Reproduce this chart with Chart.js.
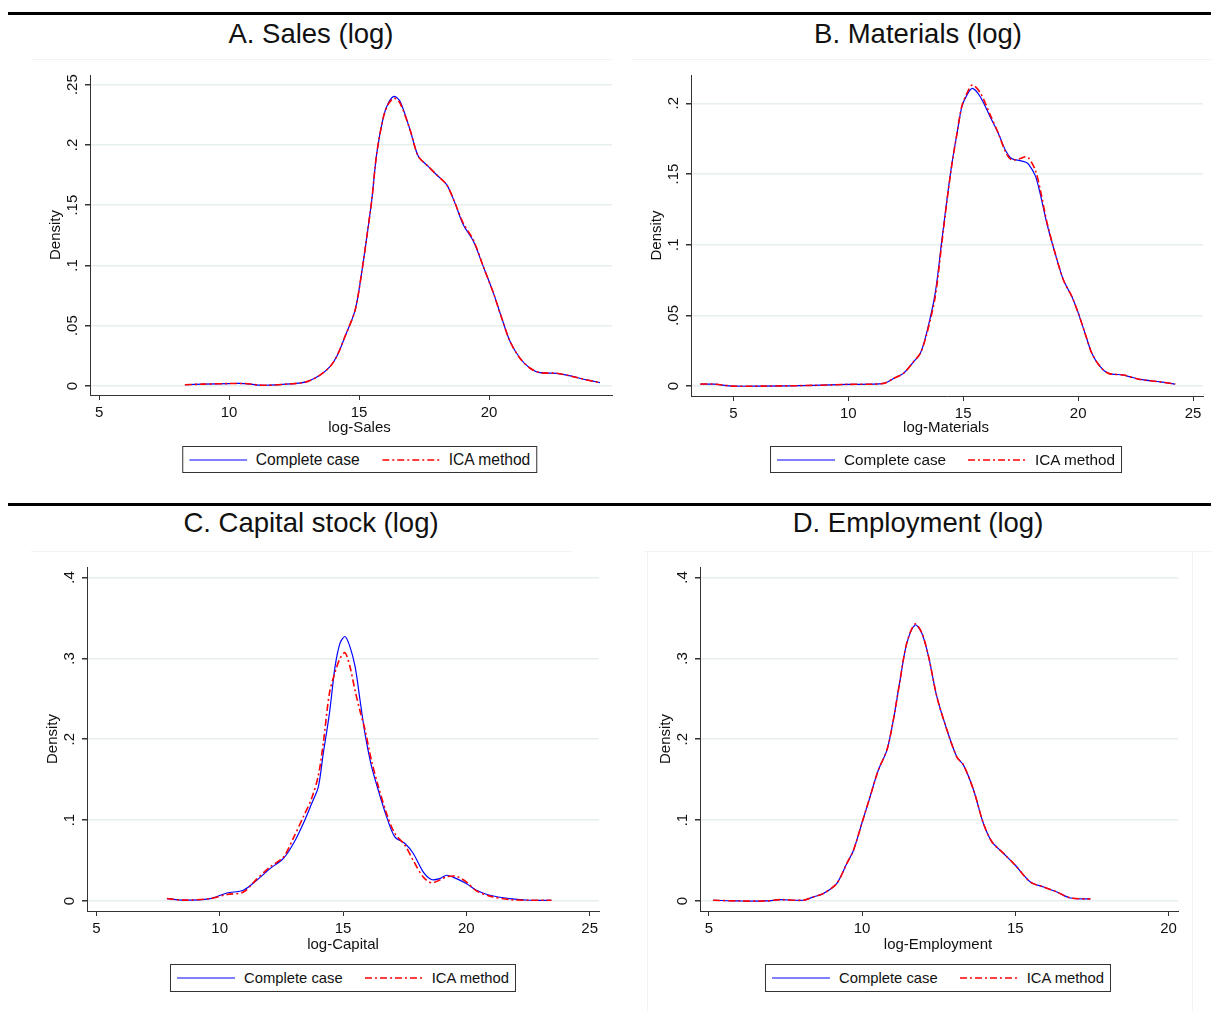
<!DOCTYPE html>
<html>
<head>
<meta charset="utf-8">
<script src="https://cdn.jsdelivr.net/npm/chart.js@4/dist/chart.umd.min.js"></script>
<style>
  html, body { margin: 0; padding: 0; background: #fff; }
  body { width: 1211px; height: 1018px; position: relative; overflow: hidden; font-family: "Liberation Sans", Arial, sans-serif; color: #111; }
  .sep { position: absolute; left: 8px; right: 0; height: 3px; background: #000; }
  .faint { position: absolute; background: #f2f2f2; }
  .ptitle { position: absolute; font-size: 27.5px; transform: translate(-50%, -50%); white-space: nowrap; color: #111; }
  canvas { position: absolute; }
  .legend { position: absolute; transform: translateX(-50%); border: 1px solid #333; display: flex; align-items: center; padding: 0 6px; box-sizing: border-box; white-space: nowrap; background: #fff; }
  .legend svg { display: block; margin-right: 9px; }
  .legend .item2 { margin-left: 22px; }
</style>
</head>
<body>
<div class="sep" style="top:12px"></div>
<div class="sep" style="top:503px"></div>
<div class="faint" style="left:31px; top:59px; width:580px; height:1px"></div>
<div class="faint" style="left:632px; top:59px; width:579px; height:1px"></div>
<div class="faint" style="left:31px; top:551px; width:540px; height:1px"></div>
<div class="faint" style="left:645px; top:551px; width:566px; height:1px"></div>
<div class="faint" style="left:647px; top:551px; width:1px; height:460px"></div>
<div class="faint" style="left:1192px; top:551px; width:1px; height:460px"></div>

<div class="ptitle" style="left:311px; top:34px">A. Sales (log)</div>
<div class="ptitle" style="left:918px; top:34px">B. Materials (log)</div>
<div class="ptitle" style="left:311px; top:523px">C. Capital stock (log)</div>
<div class="ptitle" style="left:918px; top:523px">D. Employment (log)</div>

<canvas id="cA" width="610" height="390" style="left:20px; top:60px"></canvas>
<canvas id="cB" width="581" height="390" style="left:630px; top:60px"></canvas>
<canvas id="cC" width="600" height="400" style="left:20px; top:552px"></canvas>
<canvas id="cD" width="581" height="400" style="left:630px; top:552px"></canvas>

<div class="legend" id="lA" style="left:359.5px; top:446px; height:27px; font-size:15.6px"></div>
<div class="legend" id="lB" style="left:946px; top:446px; height:27px; font-size:15.3px"></div>
<div class="legend" id="lC" style="left:343px; top:964px; height:28px; font-size:14.8px"></div>
<div class="legend" id="lD" style="left:938px; top:964px; height:28px; font-size:14.8px"></div>

<script>
// ---------------- DATA ----------------
const seriesNames = ['Complete case', 'ICA method'];

// A. Sales (log)
const salesX = [8.3, 9.0, 10.0, 10.6, 11.3, 12.35, 13.0, 13.5, 13.88, 14.14, 14.46, 14.85, 15.1, 15.3, 15.49, 15.68, 15.94, 16.13, 16.35, 16.58, 16.96, 17.28, 17.67, 17.99, 18.37, 18.69, 19.01, 19.4, 19.78, 20.17, 20.49, 20.81, 21.19, 21.58, 21.96, 22.6, 23.12, 23.76, 24.27];
const salesComplete = [0.001, 0.0015, 0.002, 0.002, 0.0006, 0.0017, 0.0036, 0.009, 0.016, 0.0244, 0.041, 0.063, 0.094, 0.124, 0.1545, 0.193, 0.2237, 0.235, 0.2403, 0.236, 0.2126, 0.1905, 0.182, 0.175, 0.167, 0.1517, 0.1337, 0.12, 0.099, 0.077, 0.0562, 0.0368, 0.023, 0.0147, 0.011, 0.0105, 0.0083, 0.005, 0.0028];
const salesICA = [0.001, 0.0015, 0.002, 0.002, 0.0006, 0.0017, 0.0036, 0.009, 0.016, 0.0244, 0.041, 0.063, 0.094, 0.124, 0.1545, 0.193, 0.2232, 0.234, 0.2388, 0.2345, 0.2126, 0.1905, 0.182, 0.175, 0.167, 0.1517, 0.135, 0.121, 0.099, 0.077, 0.0562, 0.0368, 0.023, 0.0147, 0.011, 0.0105, 0.0083, 0.005, 0.0028];
const salesXTicks = [5, 10, 15, 20];
const salesYTicks = [0, 0.05, 0.1, 0.15, 0.2, 0.25];
const salesYLabels = ['0', '.05', '.1', '.15', '.2', '.25'];

// B. Materials (log)
const materialsX = [3.57, 4.14, 5.0, 6.3, 8.49, 9.94, 11.54, 11.97, 12.4, 12.84, 13.13, 13.4, 13.78, 14.07, 14.29, 14.51, 14.73, 14.94, 15.16, 15.4, 15.74, 16.17, 16.53, 16.83, 17.1, 17.48, 17.7, 17.84, 18.13, 18.35, 18.64, 19.0, 19.36, 19.73, 20.01, 20.3, 20.6, 20.96, 21.32, 21.97, 22.7, 23.57, 24.22];
const materialsComplete = [0.0014, 0.0014, 0.0, 0.0, 0.0005, 0.0012, 0.0019, 0.0054, 0.009, 0.0172, 0.0231, 0.037, 0.0656, 0.103, 0.1315, 0.1575, 0.1787, 0.1975, 0.2058, 0.2105, 0.2046, 0.1905, 0.1787, 0.167, 0.161, 0.1594, 0.1585, 0.157, 0.149, 0.136, 0.115, 0.0938, 0.075, 0.0632, 0.0514, 0.0373, 0.023, 0.0137, 0.009, 0.0078, 0.0047, 0.003, 0.0014];
const materialsICA = [0.0014, 0.0014, 0.0, 0.0, 0.0005, 0.0012, 0.0019, 0.0054, 0.009, 0.0172, 0.0231, 0.036, 0.063, 0.101, 0.1305, 0.157, 0.1787, 0.198, 0.207, 0.2129, 0.2075, 0.192, 0.1787, 0.166, 0.160, 0.161, 0.1622, 0.1615, 0.153, 0.139, 0.116, 0.0938, 0.075, 0.0632, 0.0514, 0.0373, 0.023, 0.0137, 0.009, 0.0078, 0.0047, 0.003, 0.0014];
const materialsXTicks = [5, 10, 15, 20, 25];
const materialsYTicks = [0, 0.05, 0.1, 0.15, 0.2];
const materialsYLabels = ['0', '.05', '.1', '.15', '.2'];

// C. Capital stock (log)
const capitalX = [7.86, 8.53, 9.62, 10.29, 10.96, 11.5, 12.04, 12.58, 12.99, 13.39, 13.73, 14.0, 14.2, 14.45, 14.68, 14.88, 15.08, 15.28, 15.49, 15.69, 15.89, 16.16, 16.43, 16.77, 17.1, 17.51, 17.85, 18.25, 18.59, 18.93, 19.2, 19.6, 20.0, 20.41, 20.95, 21.76, 22.57, 23.45];
const capitalComplete = [0.003, 0.001, 0.003, 0.0099, 0.0133, 0.0256, 0.04, 0.0525, 0.071, 0.0958, 0.1206, 0.1412, 0.1825, 0.232, 0.29, 0.3188, 0.327, 0.3146, 0.29, 0.2485, 0.2073, 0.166, 0.137, 0.104, 0.0793, 0.071, 0.0587, 0.036, 0.0265, 0.0277, 0.0318, 0.0277, 0.0215, 0.0132, 0.0071, 0.003, 0.0009, 0.0009];
const capitalICA = [0.003, 0.001, 0.003, 0.008, 0.011, 0.027, 0.042, 0.054, 0.078, 0.104, 0.127, 0.155, 0.195, 0.257, 0.283, 0.300, 0.307, 0.29, 0.26, 0.235, 0.212, 0.173, 0.142, 0.108, 0.0835, 0.069, 0.05, 0.0297, 0.0225, 0.026, 0.030, 0.0305, 0.0235, 0.0125, 0.006, 0.0017, 0.0009, 0.0009];
const capitalXTicks = [5, 10, 15, 20, 25];
const capitalYTicks = [0, 0.1, 0.2, 0.3, 0.4];
const capitalYLabels = ['0', '.1', '.2', '.3', '.4'];

// D. Employment (log)
const employmentX = [5.14, 6.01, 6.89, 7.32, 8.08, 8.41, 8.73, 9.17, 9.5, 9.72, 9.99, 10.26, 10.53, 10.81, 11.02, 11.24, 11.46, 11.73, 11.95, 12.17, 12.44, 12.77, 13.09, 13.31, 13.64, 13.96, 14.24, 14.62, 15.0, 15.49, 15.92, 16.36, 16.8, 17.45];
const employmentComplete = [0.0009, 0, 0, 0.0017, 0.0009, 0.005, 0.0091, 0.0215, 0.0463, 0.0628, 0.0958, 0.1288, 0.1619, 0.1866, 0.2238, 0.2733, 0.3188, 0.3414, 0.3311, 0.3022, 0.2526, 0.2114, 0.1783, 0.168, 0.137, 0.0958, 0.073, 0.0587, 0.0442, 0.0235, 0.0173, 0.0111, 0.0037, 0.0025];
const employmentICA = [0.0009, 0, 0, 0.0017, 0.0009, 0.005, 0.0091, 0.0215, 0.0463, 0.0628, 0.0958, 0.1288, 0.1619, 0.1866, 0.2238, 0.2733, 0.3195, 0.3425, 0.3315, 0.3022, 0.2526, 0.2114, 0.1783, 0.168, 0.137, 0.0958, 0.073, 0.0587, 0.0442, 0.0235, 0.0173, 0.0111, 0.0037, 0.0025];
const employmentXTicks = [5, 10, 15, 20];
const employmentYTicks = [0, 0.1, 0.2, 0.3, 0.4];
const employmentYLabels = ['0', '.1', '.2', '.3', '.4'];

// ---------------- RENDERING ----------------
const FONT = '"Liberation Sans", Arial, sans-serif';
const BLUE = '#0000ff';
const RED = '#ff0000';
const DASH = [7, 3, 2, 3];

const stataText = {
  id: 'stataText',
  afterDraw(chart, args, opts) {
    const { ctx, chartArea } = chart;
    const ys = chart.scales.y;
    ctx.save();
    ctx.fillStyle = '#111';
    ctx.font = '15px ' + FONT;
    ctx.textAlign = 'center';
    ctx.textBaseline = 'middle';
    opts.yTicks.forEach((v, i) => {
      const py = ys.getPixelForValue(v);
      ctx.save();
      ctx.translate(chartArea.left - 17, py);
      ctx.rotate(-Math.PI / 2);
      ctx.fillText(opts.yLabels[i], 0, 0);
      ctx.restore();
    });
    ctx.save();
    ctx.translate(chartArea.left - 34, (chartArea.top + chartArea.bottom) / 2);
    ctx.rotate(-Math.PI / 2);
    ctx.fillText(opts.yTitle, 0, 0);
    ctx.restore();
    ctx.fillText(opts.xTitle, (chartArea.left + chartArea.right) / 2 + opts.xShift, chartArea.bottom + opts.xTitleDy);
    ctx.restore();
  }
};

function pts(xs, ys) { return xs.map((v, i) => ({ x: v, y: ys[i] })); }

function makeChart(id, p) {
  new Chart(document.getElementById(id), {
    type: 'line',
    data: {
      datasets: [
        { label: seriesNames[0], data: pts(p.x, p.cc), borderColor: BLUE, borderWidth: 1.2, pointRadius: 0, tension: 0.3, fill: false, order: 2 },
        { label: seriesNames[1], data: pts(p.x, p.ica), borderColor: RED, borderWidth: 1.6, borderDash: DASH, pointRadius: 0, tension: 0.3, fill: false, order: 1 }
      ]
    },
    options: {
      responsive: false,
      animation: false,
      events: [],
      layout: { padding: { top: p.padTop, right: p.padRight, left: 0, bottom: 0 } },
      plugins: {
        legend: { display: false },
        tooltip: { enabled: false },
        stataText: { yTicks: p.yTicks, yLabels: p.yLabels, yTitle: 'Density', xTitle: p.xTitle, xShift: p.xShift, xTitleDy: p.xTitleDy }
      },
      scales: {
        x: {
          type: 'linear', min: p.xMin, max: p.xMax,
          afterBuildTicks: (s) => { s.ticks = p.xTicks.map(v => ({ value: v })); },
          afterFit: (s) => { s.height = p.xH; s.paddingLeft = 0; s.paddingRight = 0; },
          ticks: { font: { family: FONT, size: 15 }, color: '#111', padding: 4, maxRotation: 0, minRotation: 0, autoSkip: false, callback: (v) => String(v) },
          grid: { drawOnChartArea: false, drawTicks: true, tickLength: 5, tickColor: '#333', color: '#333' },
          border: { display: true, color: '#333', width: 1 }
        },
        y: {
          type: 'linear', min: p.yMin, max: p.yMax,
          afterBuildTicks: (s) => { s.ticks = p.yTicks.map(v => ({ value: v })); },
          afterFit: (s) => { s.width = p.yW; s.paddingTop = 0; s.paddingBottom = 0; },
          ticks: { display: false },
          grid: { drawOnChartArea: true, drawTicks: true, tickLength: 5, tickColor: '#333', color: '#e6eef0', lineWidth: 1.5 },
          border: { display: true, color: '#333', width: 1 }
        }
      }
    },
    plugins: [stataText]
  });
}

makeChart('cA', { x: salesX, cc: salesComplete, ica: salesICA, xTicks: salesXTicks, yTicks: salesYTicks, yLabels: salesYLabels,
  xMin: 4.65, xMax: 24.73, yMin: -0.0075, yMax: 0.258, padTop: 15, padRight: 18, yW: 70, xH: 55, xTitle: 'log-Sales', xShift: 8.5, xTitleDy: 33 });
makeChart('cB', { x: materialsX, cc: materialsComplete, ica: materialsICA, xTicks: materialsXTicks, yTicks: materialsYTicks, yLabels: materialsYLabels,
  xMin: 3.16, xMax: 25.43, yMin: -0.007, yMax: 0.22, padTop: 15, padRight: 8, yW: 61, xH: 54, xTitle: 'log-Materials', xShift: -1, xTitleDy: 32 });
makeChart('cC', { x: capitalX, cc: capitalComplete, ica: capitalICA, xTicks: capitalXTicks, yTicks: capitalYTicks, yLabels: capitalYLabels,
  xMin: 4.62, xMax: 25.38, yMin: -0.0124, yMax: 0.413, padTop: 15, padRight: 21, yW: 67, xH: 41, xTitle: 'log-Capital', xShift: 0, xTitleDy: 34 });
makeChart('cD', { x: employmentX, cc: employmentComplete, ica: employmentICA, xTicks: employmentXTicks, yTicks: employmentYTicks, yLabels: employmentYLabels,
  xMin: 4.71, xMax: 20.31, yMin: -0.0124, yMax: 0.413, padTop: 15, padRight: 33, yW: 70, xH: 41, xTitle: 'log-Employment', xShift: -1, xTitleDy: 34 });

// HTML legends
function sample(color, dash, w) {
  const da = dash ? ` stroke-dasharray="${dash.join(' ')}"` : '';
  return `<svg width="58" height="10"><line x1="0" y1="5" x2="58" y2="5" stroke="${color}" stroke-width="${w}"${da}/></svg>`;
}
['lA', 'lB', 'lC', 'lD'].forEach(id => {
  const el = document.getElementById(id);
  el.innerHTML = `${sample(BLUE, null, 1.2)}<span>${seriesNames[0]}</span>` +
                 `<span class="item2" style="display:flex;align-items:center">${sample(RED, DASH, 1.6)}<span>${seriesNames[1]}</span></span>`;
});
</script>
</body>
</html>
